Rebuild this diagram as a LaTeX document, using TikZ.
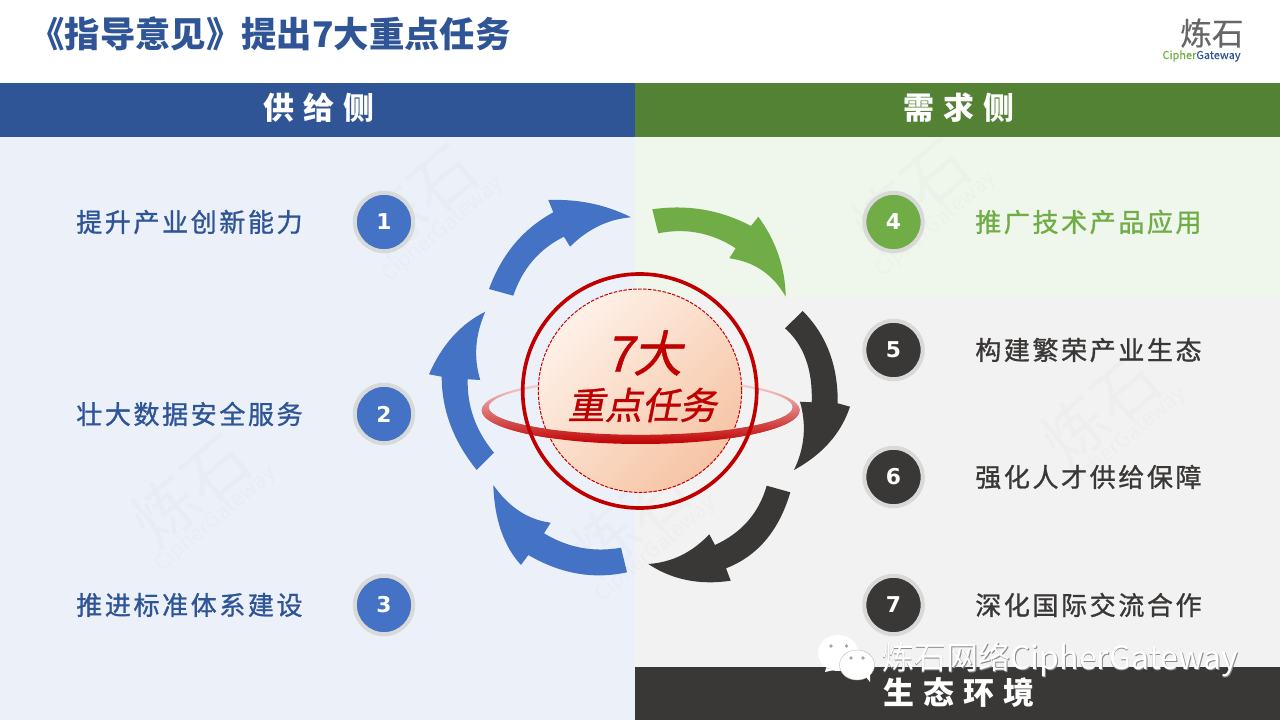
\documentclass[tikz,border=0pt]{standalone}
\usepackage{fontspec}
\usetikzlibrary{calc}
\setmainfont{Noto Sans CJK SC}
\newfontfamily\itemfont[LetterSpace=10,FakeBold=1.1]{Noto Sans CJK SC}
\newfontfamily\headfont[LetterSpace=30]{Noto Sans CJK SC}
\newfontfamily\slantfont[FakeSlant=0.2,FakeBold=0.9]{Noto Sans CJK SC}
\newfontfamily\logofont[FakeBold=0.4]{Noto Sans CJK SC}
\newfontfamily\digitfont{DejaVu Sans}
\definecolor{blueD}{HTML}{2F5597}
\definecolor{blueM}{HTML}{4472C4}
\definecolor{greenD}{HTML}{548235}
\definecolor{greenM}{HTML}{70AD47}
\definecolor{darkM}{HTML}{3A3836}
\definecolor{redM}{HTML}{C00000}
\definecolor{ringG}{HTML}{D9D9D9}
\definecolor{ballL}{HTML}{FEF1E8}
\definecolor{ballD}{HTML}{F6C4A4}
% a bow from #1 to #3, pulled towards #2
\newcommand\bow[3]{.. controls ($(#1)!0.667!(#2)$) and ($(#3)!0.667!(#2)$) .. (#3)}
\tikzset{
  itemtext/.style={anchor=west,inner sep=0pt,font=\itemfont\fontsize{18.5}{22}\selectfont},
  headtext/.style={text=white,inner sep=0pt,font=\headfont\bfseries\fontsize{22}{26}\selectfont},
  numdot/.style={circle,draw=ringG,line width=2.9pt,inner sep=0pt,minimum size=1.46cm,text=white,font=\digitfont\bfseries\fontsize{15.5}{18}\selectfont},
  watermark/.style={rotate=40,inner sep=0pt,align=center,opacity=0.017,text=black}
}
\begin{document}
\begin{tikzpicture}[x=0.025cm,y=-0.025cm]
\useasboundingbox (0,0) rectangle (1280,720);

% Draw the panels
\fill[white] (0,0) rectangle (1280,720);
\fill[blueD] (0,83) rectangle (635,137);
\fill[greenD] (635,83) rectangle (1280,137);
\fill[blueM!10!white] (0,137) rectangle (635,720);
\fill[greenM!11!white] (635,137) rectangle (1280,296);
\fill[black!5] (635,296) rectangle (1280,667);
\fill[darkM] (635,667) rectangle (1280,720);

% draw the watermarks
\foreach \wx/\wy/\wn in {424/207/a,197/497/b,917/202/c,1107/417/d,637/527/e}
  \node[watermark] (mark\wn) at (\wx,\wy) {\fontsize{46}{46}\selectfont 炼石\\[-2pt]\fontsize{15}{18}\selectfont CipherGateway};

% draw the title and the logo
\node[anchor=west,inner sep=0pt,text=blueD,font=\bfseries\fontsize{25.15}{30}\selectfont] (title) at (29,34) {《指导意见》提出7大重点任务};
\node[inner sep=0pt,text=black!60,font=\logofont\fontsize{22.5}{26}\selectfont] (logotop) at (1212,33) {炼石};
\node[inner sep=0pt,font=\logofont\fontsize{7.8}{10}\selectfont] (logobot) at (1201.5,56) {\textcolor{greenM}{Cipher}\textcolor{blueD}{Gateway}};

% draw the column heads
\node[headtext] (headL) at (319,108) {供给侧};
\node[headtext] (headR) at (959,108) {需求侧};
\node[headtext] (headB) at (959,693) {生态环境};

% draw the turning arrows:
\fill[blueM] (489,289) \bow{489,289}{508,237}{553.3,212.3} -- (548.3,200)
  \bow{548.3,200}{593.3,198.3}{631,217.3} \bow{631,217.3}{597,220}{570,246.7}
  -- (564,236.7) \bow{564,236.7}{527,255}{513.3,295.7} -- cycle;
\fill[greenM] (652.3,209.3) \bow{652.3,209.3}{705,201.7}{751,226} -- (758.3,216.7)
  \bow{758.3,216.7}{785,253.3}{785.7,296.7} \bow{785.7,296.7}{766.7,263.3}{729.3,258.3}
  -- (735.7,248.3) \bow{735.7,248.3}{700,225}{658.3,233.3} -- cycle;
\fill[darkM] (802.7,311) \bow{802.7,311}{838.3,346.7}{837.7,403.3} -- (850,406.7)
  \bow{850,406.7}{836.7,446.7}{794,470} \bow{794,470}{810,436.7}{800,401.7}
  -- (811.7,402.3) \bow{811.7,402.3}{813.3,353.3}{785,328.3} -- cycle;
\fill[darkM] (790.3,492.3) \bow{790.3,492.3}{773.3,550}{726,568.3} -- (730.7,580.7)
  \bow{730.7,580.7}{684,587.7}{648.3,564} \bow{648.3,564}{683.3,561.7}{709.3,534.3}
  -- (715,545) \bow{715,545}{755,526.7}{766.7,485.7} -- cycle;
\fill[blueM] (627,572.3) \bow{627,572.3}{576.7,583.3}{528.3,555} -- (521,565)
  \bow{521,565}{495,536.7}{493.3,485} \bow{493.3,485}{516.7,518.3}{550.7,522.7}
  -- (544,533.3) \bow{544,533.3}{580,555}{621,547.7} -- cycle;
\fill[blueM] (476.7,470) \bow{476.7,470}{441.7,426.7}{441.7,376.7} -- (429,374.3)
  \bow{429,374.3}{448.3,330}{485.3,311.7} \bow{485.3,311.7}{470,346.7}{480.3,380}
  -- (467.7,379.3) \bow{467.7,379.3}{466.7,420}{494,452.7} -- cycle;

% draw the ball and its ring
\def\ringpath{(640.7,410.3) ellipse [x radius=159,y radius=33.7] (640.7,407.3) ellipse [x radius=152,y radius=27.5]}
\shade[even odd rule,top color=redM!8!white,middle color=redM!45!white,bottom color=redM] \ringpath;
\shade[top color=ballL,bottom color=ballD,shading angle=45] (640,391) circle (101.7);
\draw[redM,line width=0.7pt,dash pattern=on 2.5pt off 1pt] (640,390.7) circle (101.7);
\begin{scope}
\clip (470,407) rectangle (810,450);
\shade[even odd rule,top color=redM!8!white,middle color=redM!45!white,bottom color=redM] \ringpath;
\end{scope}
\draw[redM,line width=2.6pt] (639.7,391) circle (117);
\node[inner sep=0pt,text=redM,font=\slantfont\fontsize{35}{40}\selectfont] (numtext) at (644,353) {7大};
\node[inner sep=0pt,text=redM,font=\slantfont\fontsize{26.5}{30}\selectfont] (ballText) at (642,405) {重点任务};

% draw the numbered items
\foreach \ny/\nk/\ntext in {222/1/提升产业创新能力,414/2/壮大数据安全服务,605/3/推进标准体系建设}{
  \node[numdot,fill=blueM] (num\nk) at (384,\ny) {\nk};
  \node[itemtext,text=blueD] (item\nk) at (76,\ny) {\ntext};
}
\foreach \ny/\nk/\ntext/\ncol in {222/4/推广技术产品应用/greenM,350/5/构建繁荣产业生态/darkM,477/6/强化人才供给保障/darkM,605/7/深化国际交流合作/darkM}{
  \node[numdot,fill=\ncol] (num\nk) at (893.5,\ny) {\nk};
  \node[itemtext,text=\ncol] (item\nk) at (975,\ny) {\ntext};
}

% draw the overlay mark
\fill[white] (838,653) ellipse [x radius=20,y radius=18];
\fill[white] (826,668) -- (825,672) -- (834,670) -- cycle;
\fill[white,draw=black!25,line width=0.3pt] (857,665) ellipse [x radius=17.5,y radius=15];
\fill[white] (866,677) -- (870,682) -- (870,674) -- cycle;
\foreach \ex/\ey in {831/646,846.5/646,851/658,863/658}
  \fill[black!35] (\ex,\ey) circle (1.8);
\node[anchor=west,inner sep=0pt,text=black!45,font=\fontsize{22.8}{26}\selectfont] (wechatS) at (882.6,660.6) {炼石网络CipherGateway};
\node[anchor=west,inner sep=0pt,text=white,font=\fontsize{22.8}{26}\selectfont] (wechat) at (882,660) {炼石网络CipherGateway};
\end{tikzpicture}
\end{document}
